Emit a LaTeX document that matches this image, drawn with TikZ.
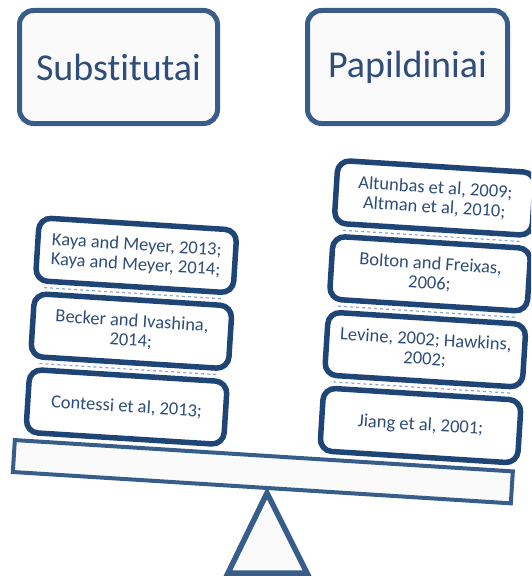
\documentclass[tikz,border=0pt]{standalone}
\usepackage{fontspec}
\setmainfont{Carlito}[Ligatures=NoCommon]
\usepackage{xcolor}
\usetikzlibrary{calc}

\definecolor{frameblue}{HTML}{385D8A}
\definecolor{stackblue}{HTML}{1F4476}
\definecolor{textblue}{HTML}{2E4D7B}
\definecolor{paleblue}{HTML}{8FA6C4}
\definecolor{palefill}{HTML}{FAFAFA}

\begin{document}
\begin{tikzpicture}[x=1pt,y=-1pt,
	header/.style={rectangle,rounded corners=14pt,draw=frameblue,line width=5pt,fill=palefill,
		minimum width=198pt,minimum height=113pt,text=textblue,font=\fontsize{38}{38}\selectfont},
	weight/.style={rectangle,rounded corners=12pt,draw=stackblue,line width=5.5pt,fill=white,
		minimum width=198pt,minimum height=63pt,align=center,text=textblue,
		font=\fontsize{18.5}{19.5}\selectfont,transform shape},
	gapline/.style={draw=paleblue,line width=1.2pt,dashed,shorten >=12pt,shorten <=12pt}]
	\clip (0,0) rectangle (531,578);

	% headings
	\node[header] (subst) at (118.5,67) {Substitutai};
	\node[header,minimum width=200pt] (papild) at (407.5,67) {Papildiniai};

	% support
	\draw[draw=frameblue,line width=5.5pt,fill=palefill,line join=miter]
		(267,493) -- (307,573) -- (228,573) -- cycle;

	\begin{scope}[shift={(267,493)},rotate=-3.6]
		% beam
		\draw[draw=frameblue,line width=4pt,fill=palefill] (-255,-37) rectangle (244,-5);

		% left pan
		\node[weight] (kaya) at (-145.5,-229) {Kaya and Meyer, 2013;\\Kaya and Meyer, 2014;};
		\node[weight] (becker) at (-145.5,-153) {Becker and Ivashina,\\2014;};
		\node[weight] (contessi) at (-145.5,-77) {Contessi et al, 2013;};

		% right pan
		\node[weight] (altunbas) at (149,-305) {Altunbas et al, 2009;\\Altman et al, 2010;};
		\node[weight] (bolton) at (149,-229) {Bolton and Freixas,\\2006;};
		\node[weight] (levine) at (149,-153) {Levine, 2002; Hawkins,\\2002;};
		\node[weight] (jiang) at (149,-77) {Jiang et al, 2001;};
	\end{scope}

	\draw[gapline] ($(kaya.south west)!.5!(becker.north west)$) -- ($(kaya.south east)!.5!(becker.north east)$);
	\draw[gapline] ($(becker.south west)!.5!(contessi.north west)$) -- ($(becker.south east)!.5!(contessi.north east)$);
	\draw[gapline] ($(altunbas.south west)!.5!(bolton.north west)$) -- ($(altunbas.south east)!.5!(bolton.north east)$);
	\draw[gapline] ($(bolton.south west)!.5!(levine.north west)$) -- ($(bolton.south east)!.5!(levine.north east)$);
	\draw[gapline] ($(levine.south west)!.5!(jiang.north west)$) -- ($(levine.south east)!.5!(jiang.north east)$);
\end{tikzpicture}
\end{document}
